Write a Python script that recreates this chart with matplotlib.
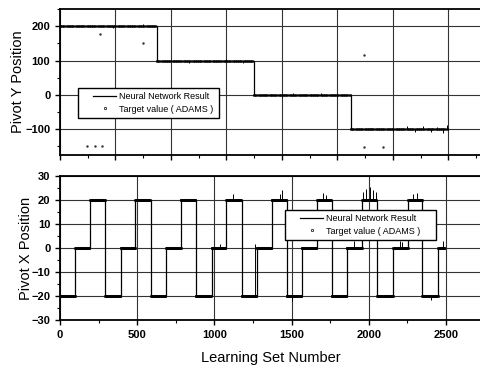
import numpy as np
import matplotlib
matplotlib.use("Agg")
import matplotlib.pyplot as plt
from matplotlib.ticker import MultipleLocator
from matplotlib.patches import Rectangle

plt.rcParams["font.family"] = ["Liberation Sans", "DejaVu Sans"]
plt.rcParams["font.weight"] = "bold"

# ---- top panel (Pivot Y), in its own sample units ----
top_edges = [0, 175, 350, 525, 700]
top_levels = [200, 100, 0, -100]
top_spike_x = [40, 95, 150, 232, 300, 330, 400, 420, 470, 500,
               560, 600, 625, 640, 655, 668, 680, 690, 697]
top_spike_y = [204, 195, 205, 94, 105, 93, -6, 5, 5, -6,
               -95, -106, -92, -108, -91, -109, -93, -110, -88]
top_stray_x = [49, 64, 76, 72, 150, 548, 548, 582]
top_stray_y = [-149, -149, -149, 177, 150, 115, -151, -151]

# ---- bottom panel (Pivot X) ----
bot_edges = [0, 100, 195, 291, 392, 488, 588, 686, 782, 878, 982, 1077, 1177,
             1274, 1371, 1468, 1565, 1665, 1760, 1857, 1958, 2052, 2158, 2256,
             2347, 2450, 2495]
bot_levels = [-20, 0, 20, -20, 0, 20, -20, 0, 20, -20, 0, 20, -20,
              0, 20, -20, 0, 20, -20, 0, 20, -20, 0, 20, -20, 0]
bot_spike_x = [1036, 1122, 1260, 1425, 1440, 1703, 1720, 1905, 1962, 1985, 2008,
               2030, 2045, 2200, 2215, 2287, 2310, 2480, 1500, 2400]
bot_spike_y = [1.5, 22.5, 1.5, 22.5, 24, 23, 22, 3, 23.5, 24.5, 25.5, 24, 23.5,
               3, 2.5, 22.5, 23, 3, -22, -21.5]


def expand(edges, levels, step):
    """sample positions along every level segment for the target markers"""
    xs, ys = [], []
    for a, b, lv in zip(edges[:-1], edges[1:], levels):
        x = np.arange(a, b, step)
        xs.append(x)
        ys.append(np.full(len(x), lv))
    return np.concatenate(xs), np.concatenate(ys)


def level_at(edges, levels, x):
    i = np.searchsorted(edges, x, side="right") - 1
    return levels[min(i, len(levels) - 1)]


fig = plt.figure(figsize=(4.81, 3.68), dpi=100)
ax1 = fig.add_axes([60 / 481, 1 - 155 / 368, 421 / 481, 146 / 368])
ax2 = fig.add_axes([60 / 481, 1 - 320 / 368, 421 / 481, 144 / 368])

for ax in (ax1, ax2):
    ax.spines["right"].set_visible(False)
    for s in ax.spines.values():
        s.set_linewidth(1.3)
    ax.grid(True, which="major", color="0.2", linewidth=0.8)
    ax.set_axisbelow(True)
    ax.tick_params(which="major", direction="out", length=3.5, width=1, labelsize=8)
    ax.tick_params(which="minor", direction="out", length=2, width=0.8)

# top panel
tx, ty = expand(top_edges, top_levels, 4)
ax1.plot(tx, ty, linestyle="none", marker="o", ms=1.7, mfc="none", mec="black",
         mew=0.5, label="Target value ( ADAMS )")
ax1.step(top_edges, top_levels + [top_levels[-1]], where="post", color="black",
         lw=0.9, label="Neural Network Result")
ax1.vlines(top_spike_x, [level_at(top_edges, top_levels, x) for x in top_spike_x],
           top_spike_y, color="black", lw=0.7)
ax1.plot(top_stray_x, top_stray_y, linestyle="none", marker=".", ms=1.5, color="0.2")
ax1.set_xlim(0, 759)
ax1.set_ylim(-175, 250)
ax1.xaxis.set_major_locator(MultipleLocator(100))
ax1.xaxis.set_minor_locator(MultipleLocator(50))
ax1.yaxis.set_major_locator(MultipleLocator(100))
ax1.yaxis.set_minor_locator(MultipleLocator(50))
ax1.tick_params(axis="x", labelbottom=False)
ax1.set_ylabel("Pivot Y Position", fontsize=10.5, fontweight="normal", labelpad=0)

# bottom panel
bx, by = expand(bot_edges, bot_levels, 5)
ax2.plot(bx, by, linestyle="none", marker="o", ms=1.7, mfc="none", mec="black",
         mew=0.5, label="Target value ( ADAMS )")
ax2.step(bot_edges, bot_levels + [bot_levels[-1]], where="post", color="black",
         lw=0.9, label="Neural Network Result")
ax2.vlines(bot_spike_x, [level_at(bot_edges, bot_levels, x) for x in bot_spike_x],
           bot_spike_y, color="black", lw=0.7)
ax2.set_xlim(0, 2727)
ax2.set_ylim(-30, 30)
ax2.xaxis.set_major_locator(MultipleLocator(500))
ax2.xaxis.set_minor_locator(MultipleLocator(250))
ax2.yaxis.set_major_locator(MultipleLocator(10))
ax2.yaxis.set_minor_locator(MultipleLocator(5))
ax2.set_ylabel("Pivot X Position", fontsize=10.5, fontweight="normal", labelpad=-1)
ax2.set_xlabel("Learning Set Number", fontsize=10.5, fontweight="normal", labelpad=8)

# legends: entries placed without frame, box drawn to the reference size
# (handle x, box x0, box y0, box w, box h) in axes fraction
legend_pos = {
    ax1: (0.0784, 0.0428, 0.2534, 0.3349, 0.2055),
    ax2: (0.570, 0.5344, 0.5556, 0.3587, 0.2083),
}
for ax in (ax1, ax2):
    hx, x0, y0, w, h = legend_pos[ax]
    hs, ls = ax.get_legend_handles_labels()
    leg = ax.legend(hs[::-1], ls[::-1], loc="center left",
                    bbox_to_anchor=(hx, y0 + h / 2), frameon=False,
                    prop={"size": 6.5, "weight": "normal"},
                    handlelength=2.6, borderpad=0, labelspacing=0.35,
                    handletextpad=0.3, borderaxespad=0)
    leg.set_zorder(6)
    ax.add_patch(Rectangle((x0, y0), w, h, transform=ax.transAxes,
                           facecolor="white", edgecolor="black", lw=1.0, zorder=5))

fig.savefig("out.png", dpi=100)
